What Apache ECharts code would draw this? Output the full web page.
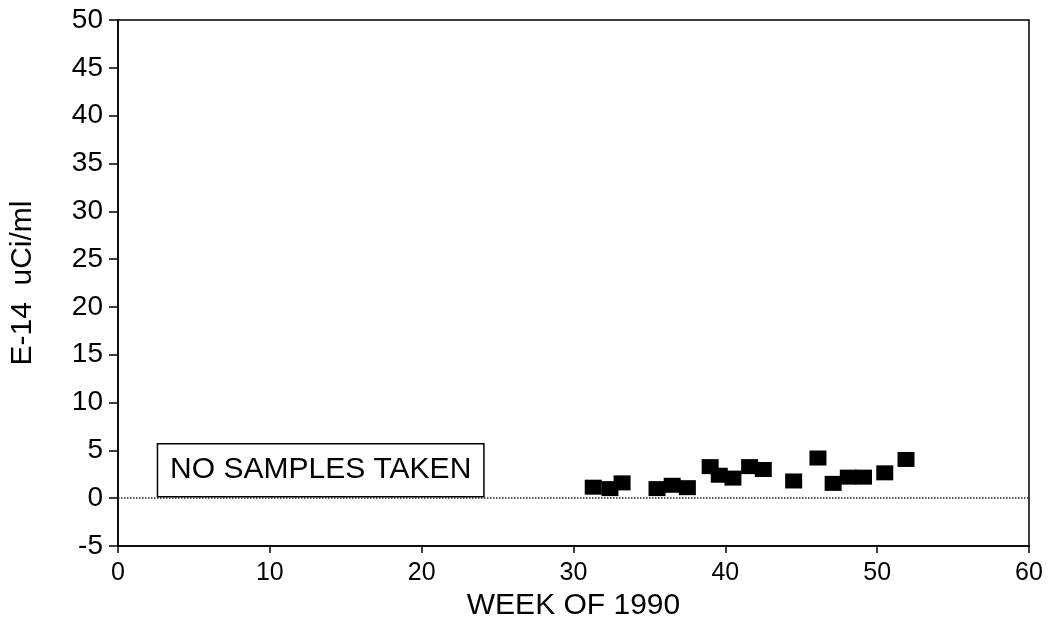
<!DOCTYPE html>
<html>
<head>
<meta charset="utf-8">
<script src="https://cdn.jsdelivr.net/npm/echarts@6/dist/echarts.min.js"></script>
<style>
  html, body { margin: 0; padding: 0; background: #fff; }
  #chart { width: 1053px; height: 628px; }
</style>
</head>
<body>
<div id="chart"></div>
<script>
// Weekly E-14 concentration samples (week number, uCi/ml)
const weeks  = [31.3, 32.4, 33.2, 35.5, 36.5, 37.5, 39.0, 39.6, 40.5, 41.6, 42.5, 44.5, 46.1, 47.1, 48.1, 49.1, 50.5, 51.9];
const values = [1.15, 1.0, 1.6, 1.0, 1.35, 1.1, 3.3, 2.4, 2.1, 3.3, 3.0, 1.8, 4.2, 1.55, 2.2, 2.2, 2.65, 4.05];

// Axis ranges and tick spacing
const xTicks = { min: 0, max: 60, step: 10 };
const yTicks = { min: -5, max: 50, step: 5 };

// Period with no sampling (week range, box height in uCi/ml)
const noSampleWeeks = [2.6, 24.1];
const noSampleBox = [0.15, 5.7];
const noSampleText = 'NO SAMPLES TAKEN';

const FONT = '"Liberation Sans", Arial, Helvetica, sans-serif';

const chart = echarts.init(document.getElementById('chart'), null, { renderer: 'canvas' });

chart.setOption({
  backgroundColor: '#ffffff',
  animation: false,
  grid: {
    left: 118, right: 24, top: 20, bottom: 82,
    show: true, borderColor: '#000', borderWidth: 1.5, backgroundColor: 'transparent'
  },
  xAxis: {
    type: 'value',
    min: xTicks.min, max: xTicks.max, interval: xTicks.step,
    name: 'WEEK OF 1990',
    nameLocation: 'middle',
    nameGap: 44,
    nameTextStyle: { fontFamily: FONT, fontSize: 30, color: '#000' },
    axisLine: { show: true, onZero: false, lineStyle: { color: '#000', width: 1.5 } },
    axisTick: { show: true, inside: false, length: 7, lineStyle: { color: '#000', width: 1.5 } },
    axisLabel: { fontFamily: FONT, fontSize: 25, color: '#000', margin: 15 },
    splitLine: { show: false }
  },
  yAxis: {
    type: 'value',
    min: yTicks.min, max: yTicks.max, interval: yTicks.step,
    name: 'E-14  uCi/ml',
    nameLocation: 'middle',
    nameGap: 80,
    nameTextStyle: { fontFamily: FONT, fontSize: 30, color: '#000' },
    axisLine: { show: true, onZero: false, lineStyle: { color: '#000', width: 1.5 } },
    axisTick: { show: true, inside: false, length: 9, lineStyle: { color: '#000', width: 1.5 } },
    axisLabel: { fontFamily: FONT, fontSize: 28, color: '#000', margin: 15 },
    splitLine: { show: false }
  },
  series: [
    {
      // dotted zero reference line
      type: 'line',
      data: [],
      z: 1,
      silent: true,
      markLine: {
        symbol: 'none',
        silent: true,
        label: { show: false },
        lineStyle: { color: '#222', type: 'dotted', width: 1.5 },
        data: [{ yAxis: 0 }]
      }
    },
    {
      // boxed annotation for the unsampled weeks
      type: 'line',
      data: [],
      z: 2,
      silent: true,
      markArea: {
        silent: true,
        itemStyle: { color: '#fff', borderColor: '#000', borderWidth: 1.5, opacity: 1 },
        label: {
          show: true, position: 'inside',
          formatter: noSampleText,
          fontFamily: FONT, fontSize: 30, color: '#000'
        },
        data: [[
          { xAxis: noSampleWeeks[0], yAxis: noSampleBox[1] },
          { xAxis: noSampleWeeks[1], yAxis: noSampleBox[0] }
        ]]
      }
    },
    {
      type: 'scatter',
      z: 3,
      symbol: 'rect',
      symbolSize: [17, 15],
      itemStyle: { color: '#000', opacity: 1 },
      data: weeks.map((w, i) => [w, values[i]])
    }
  ]
});
</script>
</body>
</html>
